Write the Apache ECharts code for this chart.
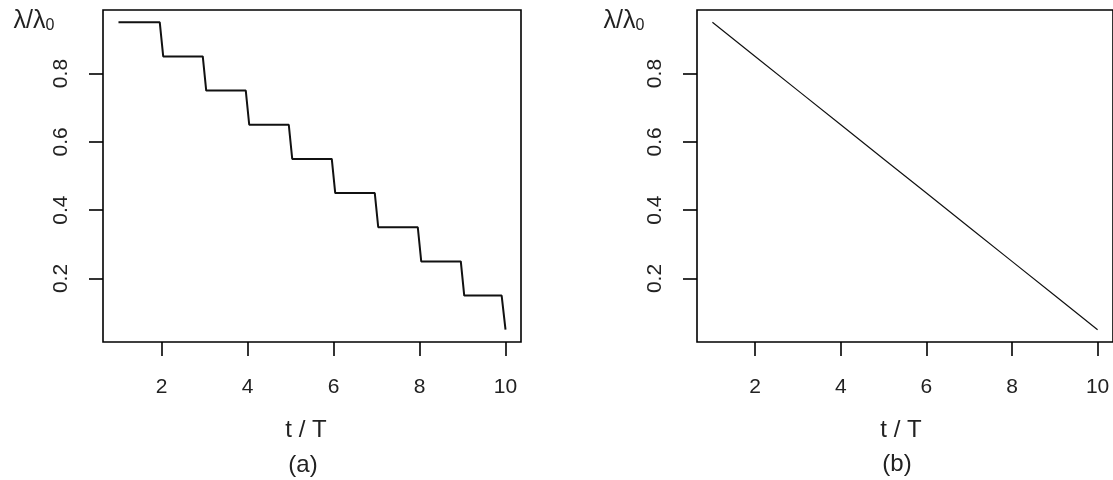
<!DOCTYPE html>
<html>
<head>
<meta charset="utf-8">
<script src="https://cdn.jsdelivr.net/npm/echarts@6/dist/echarts.min.js"></script>
<style>
html,body{margin:0;padding:0;background:#fff;}
#chart{width:1113px;height:480px;}
</style>
</head>
<body>
<div id="chart"></div>
<script>
// Panel (a): stepwise decrease
var stepT = [1, 1.96, 2.04, 2.96, 3.04, 3.96, 4.04, 4.96, 5.04, 5.96, 6.04, 6.96, 7.04, 7.96, 8.04, 8.96, 9.04, 9.91, 10];
var stepY = [0.95, 0.95, 0.85, 0.85, 0.75, 0.75, 0.65, 0.65, 0.55, 0.55, 0.45, 0.45, 0.35, 0.35, 0.25, 0.25, 0.15, 0.15, 0.05];
// Panel (b): linear decrease
var lineT = [1, 2, 3, 4, 5, 6, 7, 8, 9, 10];
var lineY = [0.95, 0.85, 0.75, 0.65, 0.55, 0.45, 0.35, 0.25, 0.15, 0.05];
// Tick labels
var xTicks = [2, 4, 6, 8, 10];
var yTicks = [0.2, 0.4, 0.6, 0.8];
var xLabel = 't / T';
var panelLabels = ['(a)', '(b)'];

function pairs(xs, ys) { return xs.map(function (x, i) { return [x, ys[i]]; }); }

var FONT = '"Liberation Sans", Arial, Helvetica, sans-serif';
var chart = echarts.init(document.getElementById('chart'), null, {renderer: 'canvas'});

function xAxisCfg(gi) {
  return {
    type: 'value', gridIndex: gi, min: 0.64, max: 10.36,
    axisLine: {show: false},
    splitLine: {show: false},
    axisTick: {show: true, inside: false, length: 14, customValues: xTicks, lineStyle: {color: '#000', width: 1.6}},
    axisLabel: {show: true, customValues: xTicks, margin: 35, color: '#222', fontSize: 21, fontFamily: FONT}
  };
}
function yAxisCfg(gi) {
  return {
    type: 'value', gridIndex: gi, min: 0.014, max: 0.986,
    axisLine: {show: false},
    splitLine: {show: false},
    axisTick: {show: true, inside: false, length: 14, customValues: yTicks, lineStyle: {color: '#000', width: 1.6}},
    axisLabel: {show: true, customValues: yTicks, rotate: 90, margin: 31, color: '#222', fontSize: 21, fontFamily: FONT,
      formatter: function (v) { return v.toFixed(1); }}
  };
}

var lamRich = {
  m: {fontSize: 25, fontFamily: FONT, fill: '#222'},
  s: {fontSize: 16, fontFamily: FONT, fill: '#222', verticalAlign: 'bottom'}
};

function txt(x, y, s) {
  return {type: 'text', x: x, y: y, style: {text: s, fontSize: 24, fontFamily: FONT, fill: '#222', align: 'center', verticalAlign: 'middle'}};
}

chart.setOption({
  animation: false,
  backgroundColor: '#fff',
  grid: [
    {left: 103, top: 10, width: 418, height: 332, show: true, borderColor: '#000', borderWidth: 1.6, backgroundColor: 'transparent'},
    {left: 697, top: 10, width: 418, height: 332, show: true, borderColor: '#000', borderWidth: 1.6, backgroundColor: 'transparent'}
  ],
  xAxis: [xAxisCfg(0), xAxisCfg(1)],
  yAxis: [yAxisCfg(0), yAxisCfg(1)],
  series: [
    {type: 'line', xAxisIndex: 0, yAxisIndex: 0, data: pairs(stepT, stepY), showSymbol: false, symbol: 'none',
      lineStyle: {color: '#111', width: 2}, silent: true},
    {type: 'line', xAxisIndex: 1, yAxisIndex: 1, data: pairs(lineT, lineY), showSymbol: false, symbol: 'none',
      lineStyle: {color: '#111', width: 1.2}, silent: true}
  ],
  graphic: [
    txt(306, 430, xLabel),
    txt(303, 465, panelLabels[0]),
    txt(901, 430, xLabel),
    txt(897, 464, panelLabels[1]),
    {type: 'text', x: 34, y: 21, style: {text: '{m|λ/λ}{s|0}', rich: lamRich, align: 'center', verticalAlign: 'middle'}},
    {type: 'text', x: 624, y: 21, style: {text: '{m|λ/λ}{s|0}', rich: lamRich, align: 'center', verticalAlign: 'middle'}}
  ]
});
</script>
</body>
</html>
